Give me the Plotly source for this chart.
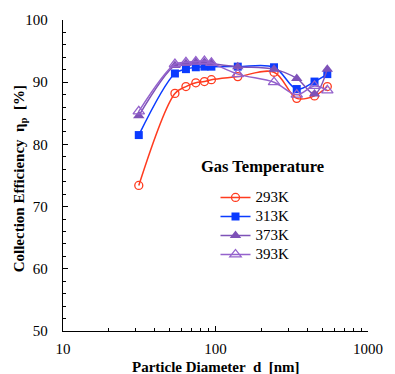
import plotly.graph_objects as go

diam = [31.4, 54.2, 64, 74.3, 84.6, 94, 140, 242, 341, 446, 541]
eff_293 = [73.4, 88.2, 89.3, 89.9, 90.1, 90.4, 90.9, 91.6, 87.4, 87.8, 89.3]
eff_313 = [81.5, 91.4, 92.1, 92.4, 92.5, 92.5, 92.5, 92.4, 88.9, 90.1, 91.3]
eff_373 = [84.6, 92.7, 93.0, 93.2, 93.2, 93.0, 92.5, 92.1, 90.6, 88.1, 92.1]
eff_393 = [85.3, 92.9, 93.2, 93.3, 93.4, 93.1, 91.3, 90.0, 88.0, 89.4, 88.7]
names = ["293K", "313K", "373K", "393K"]

FONT = '"Liberation Serif", "Times New Roman", Times, serif'

fig = go.Figure()
series = [
    (eff_293, "#FF3B1F", dict(symbol="circle-open", size=8, line=dict(width=1.3))),
    (eff_313, "#0B3BFF", dict(symbol="square", size=8)),
    (eff_373, "#7E52B8", dict(symbol="triangle-up", size=10)),
    (eff_393, "#9462CC", dict(symbol="triangle-up-open", size=10, line=dict(width=1.3))),
]
for name, (vals, col, mk) in zip(names, series):
    fig.add_trace(go.Scatter(
        x=diam, y=vals, name='<span style="font-size:15px">' + name + '</span>',
        mode="lines+markers",
        line=dict(color=col, width=1.5, shape="spline", smoothing=1),
        marker=dict(color=col, **mk),
    ))

fig.update_layout(
    width=395, height=374,
    margin=dict(l=63, r=15, t=17, b=43),
    plot_bgcolor="white", paper_bgcolor="white",
    font=dict(family=FONT, size=15, color="black"),
    showlegend=True,
    legend=dict(x=0.50, y=0.476, xanchor="left", yanchor="top",
                bgcolor="rgba(0,0,0,0)", font=dict(size=12.3, family=FONT),
                itemwidth=30, tracegroupgap=0),
    xaxis=dict(type="log", range=[1, 3], showline=True, linecolor="black", linewidth=1.3,
               ticks="inside", ticklen=5, tickcolor="black",
               tickvals=[10, 100, 1000], ticktext=["10", "100", "1000"],
               showgrid=False, zeroline=False, ticklabelstandoff=4,
               minor=dict(ticks="inside", ticklen=3, tickcolor="black",
                          tickvals=[20, 30, 40, 50, 60, 70, 80, 90, 200, 300, 400, 500, 600, 700, 800, 900]),
               tickfont=dict(size=15, family=FONT)),
    yaxis=dict(range=[50, 100], showline=True, linecolor="black", linewidth=1.3,
               ticks="inside", ticklen=5, tickcolor="black", dtick=10,
               showgrid=False, zeroline=False, ticklabelstandoff=11,
               minor=dict(ticks="inside", ticklen=3, tickcolor="black", dtick=2),
               tickfont=dict(size=15, family=FONT)),
)

fig.add_annotation(text="<b>Collection Efficiency  η<sub>p</sub>  [%]</b>", xref="paper", yref="paper",
                   x=-0.142, y=0.49, xanchor="center", yanchor="middle", showarrow=False,
                   textangle=-90, font=dict(size=15, family=FONT))
fig.add_annotation(text="<b>Particle Diameter  d  [nm]</b>", xref="paper", yref="paper",
                   x=0.5, y=-0.084, xanchor="center", yanchor="top", showarrow=False,
                   font=dict(size=15, family=FONT))
fig.add_annotation(text="<b>Gas Temperature</b>", xref="paper", yref="paper",
                   x=0.653, y=0.529, xanchor="center", yanchor="middle", showarrow=False,
                   font=dict(size=16.5, family=FONT))

fig.write_html("out.html")
